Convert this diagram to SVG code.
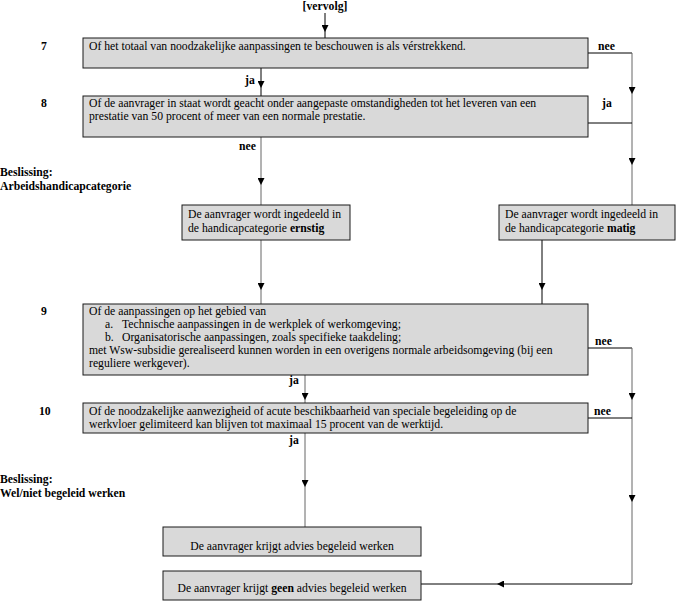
<svg xmlns="http://www.w3.org/2000/svg" width="676" height="601" viewBox="0 0 676 601">
<defs>
<style>
text{font-family:"Liberation Serif","Times New Roman",Times,serif;font-size:11.7px;fill:#000}
.b{font-weight:bold}
.box{fill:#d9d9d9;stroke:#1a1a1a;stroke-width:1}
.c{fill:none;stroke:#666;stroke-width:1}
.k{fill:none;stroke:#000;stroke-width:1}
</style>
<marker id="ah" viewBox="0 0 8 8" refX="8" refY="4" markerWidth="8" markerHeight="7" markerUnits="userSpaceOnUse" orient="auto">
<path d="M0,0 L8,4 L0,8 z" fill="#000"/>
</marker>
</defs>
<rect width="676" height="601" fill="#fff"/>

<g id="labels" font-family="Liberation Serif, serif">
<text x="325" y="10" class="b" text-anchor="middle">[vervolg]</text>
<text x="41" y="50" class="b">7</text>
<text x="41" y="107" class="b">8</text>
<text x="41" y="315" class="b">9</text>
<text x="39" y="415" class="b">10</text>
<text x="0" y="176" class="b" font-size="12.4">Beslissing:</text>
<text x="0" y="190" class="b" font-size="12.4">Arbeidshandicapcategorie</text>
<text x="0" y="483" class="b" font-size="12.4">Beslissing:</text>
<text x="0" y="497" class="b" font-size="12.4">Wel/niet begeleid werken</text>
</g>

<g id="connectors" font-family="Liberation Serif, serif">
<path class="k" d="M325,13 L325,32 L325,38" marker-mid="url(#ah)"/>
<path class="k" d="M588,53 H632"/>
<path class="c" d="M632,53 L632,94 L632,165 L632,205" marker-mid="url(#ah)"/>
<path class="k" d="M588,123 H632"/>
<path class="k" d="M261,68 L261,88 L261,96" marker-mid="url(#ah)"/>
<path class="c" d="M261,137 L261,185 L261,205" marker-mid="url(#ah)"/>
<path class="c" d="M261,240 L261,290 L261,304" marker-mid="url(#ah)"/>
<path class="k" d="M542,240 L542,290 L542,304" marker-mid="url(#ah)"/>
<path class="k" d="M588,348 H632"/>
<path class="c" d="M632,348 L632,400 L632,502 L632,584" marker-mid="url(#ah)"/>
<path class="k" d="M588,418 H632"/>
<path class="k" d="M632,584 L497,584 L421,584" marker-mid="url(#ah)"/>
<path class="c" d="M305,375 L305,400 L305,403" marker-mid="url(#ah)"/>
<path class="c" d="M305,433 L305,487 L305,527" marker-mid="url(#ah)"/>
<text x="598" y="50" class="b">nee</text>
<text x="602" y="107" class="b">ja</text>
<text x="245" y="84" class="b">ja</text>
<text x="239" y="150" class="b">nee</text>
<text x="595" y="345" class="b">nee</text>
<text x="594" y="415" class="b">nee</text>
<text x="289" y="384" class="b">ja</text>
<text x="289" y="444" class="b">ja</text>
</g>

<g id="n7" font-family="Liberation Serif, serif">
<rect class="box" x="83" y="38" width="505" height="30"/>
<text x="89" y="50">Of het totaal van noodzakelijke aanpassingen te beschouwen is als vérstrekkend.</text>
</g>
<g id="n8" font-family="Liberation Serif, serif">
<rect class="box" x="83" y="96" width="505" height="41"/>
<text x="89" y="107">Of de aanvrager in staat wordt geacht onder aangepaste omstandigheden tot het leveren van een</text>
<text x="89" y="120">prestatie van 50 procent of meer van een normale prestatie.</text>
</g>
<g id="ernstig" font-family="Liberation Serif, serif">
<rect class="box" x="182" y="205" width="168" height="35"/>
<text x="188" y="218">De aanvrager wordt ingedeeld in</text>
<text x="188" y="232">de handicapcategorie <tspan class="b">ernstig</tspan></text>
</g>
<g id="matig" font-family="Liberation Serif, serif">
<rect class="box" x="499" y="205" width="176" height="35"/>
<text x="505" y="218">De aanvrager wordt ingedeeld in</text>
<text x="505" y="232">de handicapcategorie <tspan class="b">matig</tspan></text>
</g>
<g id="n9" font-family="Liberation Serif, serif">
<rect class="box" x="83" y="304" width="505" height="71"/>
<text x="89" y="315">Of de aanpassingen op het gebied van</text>
<text x="105" y="328">a.</text>
<text x="122" y="328">Technische aanpassingen in de werkplek of werkomgeving;</text>
<text x="105" y="341">b.</text>
<text x="122" y="341">Organisatorische aanpassingen, zoals specifieke taakdeling;</text>
<text x="89" y="354">met Wsw-subsidie gerealiseerd kunnen worden in een overigens normale arbeidsomgeving (bij een</text>
<text x="89" y="367">reguliere werkgever).</text>
</g>
<g id="n10" font-family="Liberation Serif, serif">
<rect class="box" x="83" y="403" width="505" height="30"/>
<text x="89" y="415">Of de noodzakelijke aanwezigheid of acute beschikbaarheid van speciale begeleiding op de</text>
<text x="89" y="428">werkvloer gelimiteerd kan blijven tot maximaal 15 procent van de werktijd.</text>
</g>
<g id="begeleid" font-family="Liberation Serif, serif">
<rect class="box" x="163" y="527" width="258" height="29"/>
<text x="292" y="550" text-anchor="middle">De aanvrager krijgt advies begeleid werken</text>
</g>
<g id="geen" font-family="Liberation Serif, serif">
<rect class="box" x="163" y="571" width="258" height="29"/>
<text x="292" y="592" text-anchor="middle">De aanvrager krijgt <tspan class="b">geen</tspan> advies begeleid werken</text>
</g>
</svg>
